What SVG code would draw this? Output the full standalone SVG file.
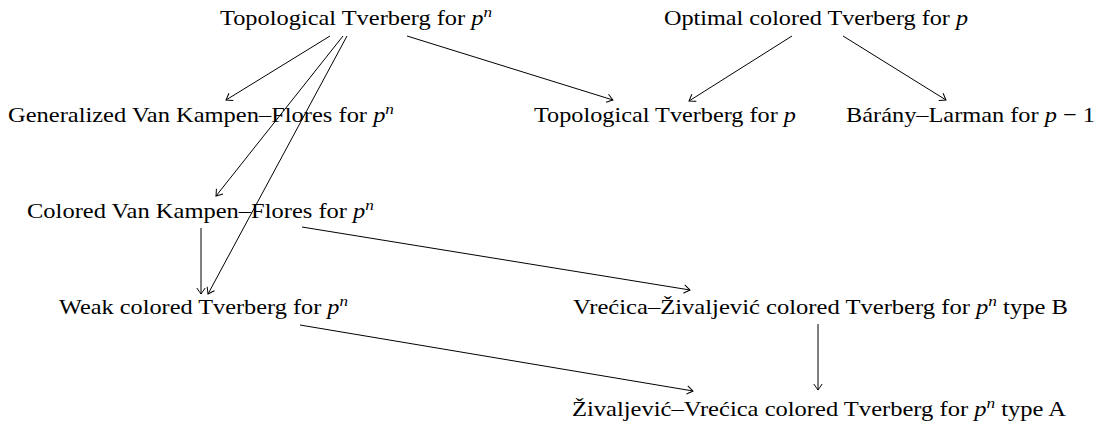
<svg xmlns="http://www.w3.org/2000/svg" width="1101" height="424" viewBox="0 0 1101 424">
<style>
text{font-family:"Liberation Serif","Times New Roman",serif;font-size:22px;fill:#000}
.m{font-style:italic}
.s{font-style:italic;font-size:15.5px}
.e{stroke:#000;stroke-width:1;fill:none;marker-end:url(#to)}
</style>
<defs>
<marker id="to" markerUnits="userSpaceOnUse" markerWidth="12" markerHeight="12" viewBox="-8 -6 10 12" refX="0" refY="0" orient="auto">
<path d="M-6,-4.2 Q-1.5,-1 0,0 Q-1.5,1 -6,4.2" stroke="#000" stroke-width="1" fill="none"/>
</marker>
</defs>
<rect width="1101" height="424" fill="#fff"/>
<g id="connectors">
<line class="e" x1="330" y1="36" x2="226" y2="100"/>
<line class="e" x1="343" y1="36" x2="216" y2="196"/>
<line class="e" x1="347" y1="36" x2="208" y2="294"/>
<line class="e" x1="201" y1="228" x2="201" y2="294"/>
<line class="e" x1="407" y1="36" x2="613" y2="100"/>
<line class="e" x1="792" y1="36" x2="689" y2="101"/>
<line class="e" x1="843" y1="36" x2="946" y2="100"/>
<line class="e" x1="302" y1="227" x2="690" y2="290"/>
<line class="e" x1="300" y1="325" x2="693" y2="391"/>
<line class="e" x1="818" y1="324" x2="818" y2="390"/>
</g>
<g id="n-top-pn"><text x="220" y="25" textLength="272" lengthAdjust="spacingAndGlyphs">Topological Tverberg for <tspan class="m">p</tspan><tspan class="s" dy="-8">n</tspan></text></g>
<g id="n-opt-p"><text x="664" y="25" textLength="304" lengthAdjust="spacingAndGlyphs">Optimal colored Tverberg for <tspan class="m">p</tspan></text></g>
<g id="n-gvkf"><text x="8" y="121.5" textLength="386" lengthAdjust="spacingAndGlyphs">Generalized Van Kampen–Flores for <tspan class="m">p</tspan><tspan class="s" dy="-8">n</tspan></text></g>
<g id="n-top-p"><text x="534" y="121.5" textLength="262" lengthAdjust="spacingAndGlyphs">Topological Tverberg for <tspan class="m">p</tspan></text></g>
<g id="n-bl"><text x="846" y="121.5" textLength="249" lengthAdjust="spacingAndGlyphs">Bárány–Larman for <tspan class="m">p</tspan> − 1</text></g>
<g id="n-cvkf"><text x="27" y="218" textLength="347" lengthAdjust="spacingAndGlyphs">Colored Van Kampen–Flores for <tspan class="m">p</tspan><tspan class="s" dy="-8">n</tspan></text></g>
<g id="n-weak"><text x="59" y="314" textLength="289" lengthAdjust="spacingAndGlyphs">Weak colored Tverberg for <tspan class="m">p</tspan><tspan class="s" dy="-8">n</tspan></text></g>
<g id="n-vzb"><text x="573" y="314" textLength="495" lengthAdjust="spacingAndGlyphs">Vrećica–Živaljević colored Tverberg for <tspan class="m">p</tspan><tspan class="s" dy="-8">n</tspan><tspan dy="8"> type B</tspan></text></g>
<g id="n-zva"><text x="572" y="416" textLength="494" lengthAdjust="spacingAndGlyphs">Živaljević–Vrećica colored Tverberg for <tspan class="m">p</tspan><tspan class="s" dy="-8">n</tspan><tspan dy="8"> type A</tspan></text></g>
</svg>
